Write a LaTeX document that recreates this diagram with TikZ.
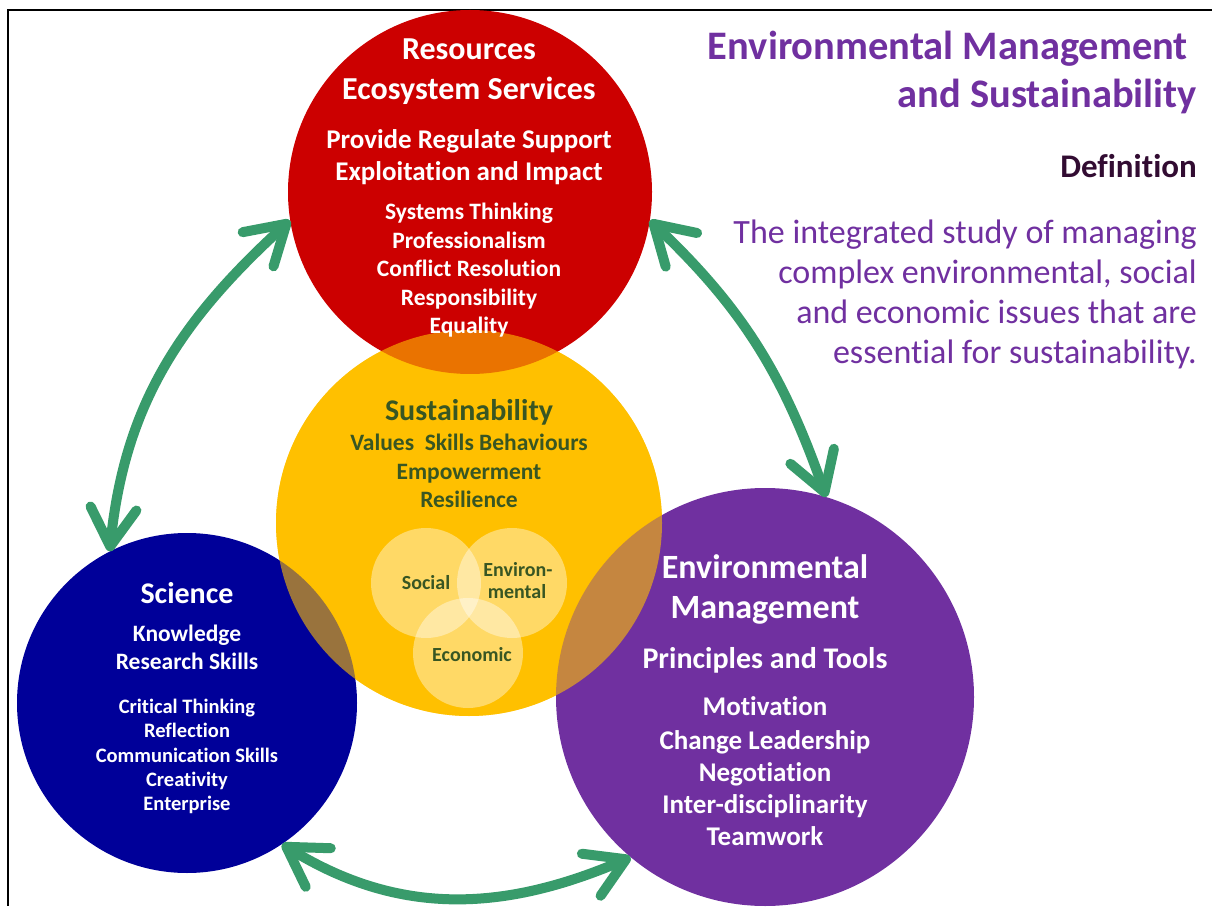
\documentclass[tikz,border=0pt]{standalone}
\usepackage{fontspec}
\setmainfont[Ligatures=NoCommon]{Carlito}
\usetikzlibrary{arrows.meta,bending}
\definecolor{redc}{HTML}{CC0000}
\definecolor{yelc}{HTML}{FFC000}
\definecolor{bluec}{HTML}{000099}
\definecolor{purc}{HTML}{7030A0}
\definecolor{grnc}{RGB}{56,155,107}
\definecolor{dgrn}{HTML}{385623}
\definecolor{defc}{RGB}{50,12,50}
\newcommand{\fsz}[1]{\fontsize{#1}{#1}\selectfont}
\begin{document}
\begin{tikzpicture}[x=1pt,y=1pt,
  bigc/.style={circle, inner sep=0pt, minimum size=#1},
  smallc/.style={circle, inner sep=0pt, minimum size=110pt, fill=white, fill opacity=0.4},
  txt/.style={anchor=base, inner sep=0pt},
  rtxt/.style={anchor=base east, inner sep=0pt},
  link/.style={draw=grnc, line width=10pt,
    {Straight Barb[round,length=38pt,width=46pt]}-{Straight Barb[round,length=38pt,width=46pt]}}]
\useasboundingbox (0,0) rectangle (1212,906);
% frame
\draw[line width=2pt] (1212,896) -- (8,896) -- (8,0);
% circles
\node[bigc=386pt, fill=yelc] (yelbase) at (469,383) {};
\node[bigc=364pt, fill=redc] (red) at (470,714) {};
\node[bigc=340pt, fill=bluec] (blue) at (187,203) {};
\node[bigc=418pt, fill=purc] (pur) at (765,209) {};
\node[bigc=386pt, fill=yelc, fill opacity=0.6] (yel) at (469,383) {};
\node[smallc] (soc) at (426,323) {};
\node[smallc] (env) at (512,323) {};
\node[smallc] (eco) at (468,253) {};
% arrows
\draw[link] (blue.117) to[out=85,in=222] (red.189);
\draw[link] (red.-9) to[out=-43,in=109] (pur.73);
\draw[link] (blue.-56) to[out=-33,in=204] (pur.230);
% red text
\begin{scope}[every node/.style={txt, text=white}]
\node[font=\bfseries\fsz{32}] (r1) at (469,846) {Resources};
\node[font=\bfseries\fsz{32}] (r2) at (469,806) {Ecosystem Services};
\node[font=\bfseries\fsz{27}] (r3) at (469,757) {Provide Regulate Support};
\node[font=\bfseries\fsz{27}] (r4) at (469,725) {Exploitation and Impact};
\node[font=\bfseries\fsz{23.5}] (r5) at (469,686) {Systems Thinking};
\node[font=\bfseries\fsz{23.5}] (r6) at (469,657) {Professionalism};
\node[font=\bfseries\fsz{23.5}] (r7) at (469,629) {Conflict Resolution};
\node[font=\bfseries\fsz{23.5}] (r8) at (469,600) {Responsibility};
\node[font=\bfseries\fsz{23.5}] (r9) at (469,572) {Equality};
% blue text
\node[font=\bfseries\fsz{30}] (b1) at (187,303) {Science};
\node[font=\bfseries\fsz{23.5}] (b2) at (187,265) {Knowledge};
\node[font=\bfseries\fsz{23.5}] (b3) at (187,237) {Research Skills};
\node[font=\bfseries\fsz{20.5}] (b4) at (187,193) {Critical Thinking};
\node[font=\bfseries\fsz{20.5}] (b5) at (187,169) {Reflection};
\node[font=\bfseries\fsz{20.5}] (b6) at (187,144) {Communication Skills};
\node[font=\bfseries\fsz{20.5}] (b7) at (187,120) {Creativity};
\node[font=\bfseries\fsz{20.5}] (b8) at (187,96) {Enterprise};
% purple text
\node[font=\bfseries\fsz{34}] (p1) at (765,328) {Environmental};
\node[font=\bfseries\fsz{34}] (p2) at (765,288) {Management};
\node[font=\bfseries\fsz{30}] (p3) at (765,238) {Principles and Tools};
\node[font=\bfseries\fsz{27}] (p4) at (765,191) {Motivation};
\node[font=\bfseries\fsz{27}] (p5) at (765,157) {Change Leadership};
\node[font=\bfseries\fsz{27}] (p6) at (765,125) {Negotiation};
\node[font=\bfseries\fsz{27}] (p7) at (765,93) {Inter-disciplinarity};
\node[font=\bfseries\fsz{27}] (p8) at (765,61) {Teamwork};
\end{scope}
% yellow text
\begin{scope}[every node/.style={txt, text=dgrn}]
\node[font=\bfseries\fsz{30}] (y1) at (469,485) {Sustainability};
\node[font=\bfseries\fsz{23.5}] (y2) at (469,455) {Values\ \ Skills Behaviours};
\node[font=\bfseries\fsz{23.5}] (y3) at (469,427) {Empowerment};
\node[font=\bfseries\fsz{23.5}] (y4) at (469,399) {Resilience};
\node[font=\bfseries\fsz{20}] (s1) at (426,317) {Social};
\node[font=\bfseries\fsz{20}] (s2) at (518,330) {Environ-};
\node[font=\bfseries\fsz{20}] (s3) at (517,308) {mental};
\node[font=\bfseries\fsz{20}] (s4) at (472,245) {Economic};
\end{scope}
% right side
\node[rtxt, text=purc, font=\bfseries\fsz{40.5}] (t1) at (1188,846) {Environmental Management};
\node[rtxt, text=purc, font=\bfseries\fsz{40.5}] (t2) at (1197,798) {and Sustainability};
\node[rtxt, text=defc, font=\bfseries\fsz{33}] (d0) at (1197,728) {Definition};
\node[rtxt, text=purc, font=\fsz{34}] (d1) at (1197,662) {The integrated study of managing};
\node[rtxt, text=purc, font=\fsz{34}] (d2) at (1197,622) {complex environmental, social};
\node[rtxt, text=purc, font=\fsz{34}] (d3) at (1197,582) {and economic issues that are};
\node[rtxt, text=purc, font=\fsz{34}] (d4) at (1197,542) {essential for sustainability.};
\end{tikzpicture}
\end{document}
